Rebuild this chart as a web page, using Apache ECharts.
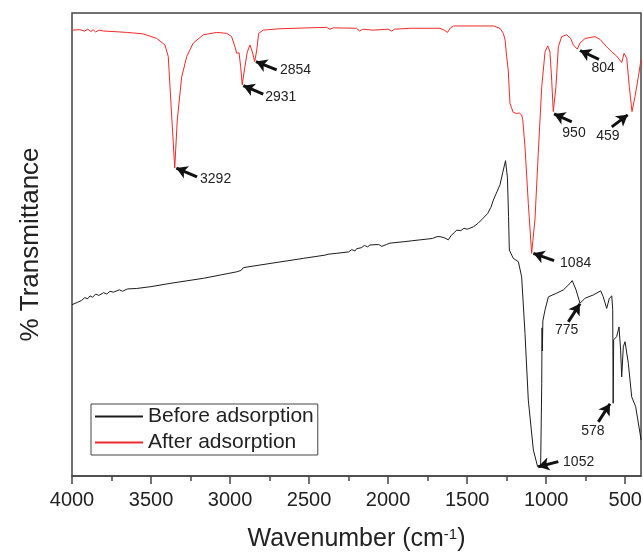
<!DOCTYPE html>
<html>
<head>
<meta charset="utf-8">
<script src="https://cdn.jsdelivr.net/npm/echarts@6/dist/echarts.min.js"></script>
<style>
  html, body { margin: 0; padding: 0; background: #fff; }
  #main { width: 643px; height: 555px; }
</style>
</head>
<body>
<div id="main"></div>
<script>
// tick labels on the wavenumber axis
var majorTicks = [4000, 3500, 3000, 2500, 2000, 1500, 1000, 500];
var minorTicks = [3750, 3250, 2750, 2250, 1750, 1250, 750];

// [wavenumber, % transmittance (arbitrary scale)]
var beforeData = [
  [4000, 37.0], [3960, 37.6], [3940, 37.9], [3920, 38.5], [3900, 38.3], [3886, 38.9], [3870, 38.6],
  [3850, 39.3], [3830, 39.0], [3800, 39.6], [3780, 39.3], [3760, 39.9], [3739, 39.7], [3700, 40.2],
  [3680, 39.9], [3650, 40.4], [3591, 40.5], [3500, 40.9], [3380, 41.6], [3169, 42.7], [2958, 44.1],
  [2930, 44.4], [2916, 45.0], [2880, 45.2], [2747, 45.9], [2537, 47.0], [2400, 47.7], [2380, 47.9],
  [2325, 48.1], [2250, 48.4], [2230, 48.9], [2210, 48.6], [2199, 49.1], [2170, 49.3], [2150, 49.8],
  [2130, 49.5], [2115, 49.9], [2060, 50.0], [2040, 49.6], [2030, 49.4], [2010, 50.0], [1988, 50.3],
  [1900, 50.6], [1850, 50.8], [1798, 51.0], [1720, 51.3], [1690, 51.7], [1672, 51.7], [1640, 51.4],
  [1619, 51.0], [1600, 52.0], [1580, 52.6], [1566, 53.1], [1540, 53.0], [1520, 53.5], [1500, 53.3],
  [1461, 53.8], [1430, 54.6], [1398, 55.7], [1370, 56.7], [1350, 58.0], [1334, 59.6], [1310, 61.5],
  [1292, 62.9], [1275, 65.5], [1257, 68.1], [1245, 64.4], [1238, 56.0], [1233, 48.8], [1208, 47.0],
  [1176, 46.3], [1155, 43.0], [1134, 30.8], [1113, 16.4], [1081, 5.6], [1054, 2.0], [1035, 2.0],
  [1028, 20.0], [1026, 32.0], [1024, 27.0], [1021, 33.5], [1007, 35.9], [986, 38.7], [933, 39.5],
  [891, 40.2], [849, 41.6], [835, 42.2], [811, 40.2], [786, 37.3], [754, 38.4], [702, 39.1],
  [655, 40.0], [639, 38.7], [617, 36.2], [600, 38.4], [585, 38.9], [579, 35.9], [576, 15.7],
  [573, 29.4], [554, 30.1], [539, 32.2], [529, 27.2], [522, 21.4], [512, 27.9], [501, 29.0],
  [480, 24.3], [459, 17.1], [434, 15.0], [406, 9.2], [400, 7.8]
];

var afterData = [
  [4000, 96.3], [3950, 96.4], [3920, 96.1], [3900, 96.5], [3880, 96.0], [3867, 96.4], [3850, 95.9],
  [3830, 96.3], [3800, 96.1], [3741, 96.0], [3650, 95.8], [3551, 95.5], [3464, 94.5], [3412, 93.1],
  [3391, 90.6], [3380, 84.1], [3363, 74.1], [3350, 66.5], [3334, 76.9], [3306, 86.2], [3274, 90.6],
  [3233, 93.5], [3169, 95.3], [3085, 95.8], [3021, 95.6], [2990, 94.9], [2969, 92.7], [2958, 91.3],
  [2943, 91.4], [2933, 88.4], [2923, 84.5], [2906, 88.4], [2891, 91.6], [2874, 93.1], [2859, 91.6],
  [2844, 89.5], [2831, 92.0], [2819, 95.6], [2790, 96.3], [2684, 96.6], [2500, 96.8], [2389, 96.9],
  [2368, 96.5], [2347, 96.8], [2200, 96.7], [2180, 96.1], [2160, 96.5], [2096, 96.3], [2000, 96.5],
  [1977, 96.1], [1960, 96.5], [1861, 96.7], [1672, 96.7], [1640, 96.2], [1625, 95.8], [1605, 96.8],
  [1587, 97.2], [1419, 97.2], [1334, 97.2], [1292, 96.7], [1271, 95.6], [1260, 94.2], [1250, 90.6],
  [1240, 87.7], [1229, 80.5], [1218, 79.4], [1208, 78.5], [1186, 78.3], [1170, 78.4], [1155, 78.0],
  [1148, 76.9], [1134, 71.1], [1113, 58.9], [1092, 48.1], [1071, 55.3], [1050, 69.7], [1028, 84.1],
  [1007, 91.6], [990, 92.9], [976, 91.6], [965, 85.5], [955, 78.7], [938, 84.1], [923, 92.7],
  [902, 94.9], [870, 95.3], [845, 94.5], [828, 93.1], [803, 92.2], [786, 93.5], [754, 94.5],
  [691, 94.9], [659, 94.3], [617, 92.7], [585, 91.6], [554, 90.7], [522, 89.3], [507, 91.3],
  [490, 90.2], [474, 84.1], [457, 78.7], [438, 81.9], [417, 86.2], [400, 89.9]
];

// peak annotations: arrow tip, arrow tail, label anchor (data units)
var peaks = [
  { text: '3292', tip: [3340, 66.5], tail: [3209, 64.6], at: [3190, 64.2], pos: 'right' },
  { text: '2931', tip: [2916, 84.3], tail: [2790, 82.5], at: [2778, 81.9], pos: 'right' },
  { text: '2854', tip: [2836, 89.5], tail: [2705, 87.7], at: [2684, 87.7], pos: 'right' },
  { text: '1084', tip: [1081, 48.1], tail: [950, 46.5], at: [912, 46.0], pos: 'right' },
  { text: '950', tip: [950, 78.2], tail: [838, 76.5], at: [824, 74.1], pos: 'inside' },
  { text: '459', tip: [484, 78.0], tail: [585, 75.4], at: [609, 73.4], pos: 'inside' },
  { text: '804', tip: [786, 91.9], tail: [666, 90.0], at: [640, 88.1], pos: 'inside' },
  { text: '1052', tip: [1050, 2.0], tail: [923, 3.1], at: [893, 3.0], pos: 'right' },
  { text: '775', tip: [786, 37.2], tail: [860, 33.3], at: [870, 31.5], pos: 'inside' },
  { text: '578', tip: [596, 15.6], tail: [670, 11.7], at: [704, 9.7], pos: 'inside' }
];

var font = 'Liberation Sans, Arial, sans-serif';
var myChart = echarts.init(document.getElementById('main'));

var arrowLines = peaks.map(function (p) {
  return [{ coord: p.tail }, { coord: p.tip }];
});
var peakLabels = peaks.map(function (p) {
  return {
    coord: p.at,
    value: p.text,
    label: { position: p.pos, distance: 0 }
  };
});

var option = {
  animation: false,
  backgroundColor: '#fff',
  textStyle: { fontFamily: font },
  grid: {
    left: 72, right: 2, top: 13, bottom: 79,
    outerBoundsMode: 'none',
    containLabel: false,
    show: true, borderColor: '#444', borderWidth: 1.5
  },
  legend: {
    data: ['Before adsorption', 'After adsorption'],
    orient: 'vertical',
    left: 91, top: 404,
    padding: [2, 4, 2, 3],
    itemGap: 5,
    itemWidth: 48,
    itemHeight: 14,
    itemStyle: { opacity: 0 },
    borderColor: '#444',
    borderWidth: 1,
    textStyle: { fontSize: 21, color: '#222', fontFamily: font }
  },
  xAxis: [
    {
      type: 'value',
      min: 400, max: 4000,
      inverse: true,
      name: 'Wavenumber (cm{sup|-1})',
      nameLocation: 'middle',
      nameGap: 51,
      nameTextStyle: {
        fontSize: 25, color: '#222', fontFamily: font,
        rich: { sup: { fontSize: 15, verticalAlign: 'top', color: '#222', fontFamily: font } }
      },
      splitLine: { show: false },
      axisLine: { onZero: false, lineStyle: { color: '#444', width: 1.5 } },
      axisTick: { customValues: majorTicks, length: 8, lineStyle: { color: '#444', width: 1.5 } },
      axisLabel: {
        customValues: majorTicks, fontSize: 20, color: '#222', margin: 14, fontFamily: font,
        formatter: function (v) { return String(v); }
      }
    },
    {
      type: 'value',
      min: 400, max: 4000,
      inverse: true,
      position: 'bottom',
      splitLine: { show: false },
      axisLine: { show: false },
      axisTick: { customValues: minorTicks, length: 5, lineStyle: { color: '#444', width: 1.5 } },
      axisLabel: { show: false }
    }
  ],
  yAxis: {
    type: 'value',
    min: 0, max: 100,
    name: '% Transmittance',
    nameLocation: 'middle',
    nameGap: 28,
    nameTextStyle: { fontSize: 26, color: '#222', fontFamily: font },
    splitLine: { show: false },
    axisLine: { show: false },
    axisTick: { show: false },
    axisLabel: { show: false }
  },
  series: [
    {
      name: 'Before adsorption',
      type: 'line',
      data: beforeData,
      symbol: 'none',
      lineStyle: { color: '#1c1c1c', width: 1 },
      itemStyle: { color: '#1c1c1c' }
    },
    {
      name: 'After adsorption',
      type: 'line',
      data: afterData,
      symbol: 'none',
      lineStyle: { color: '#f02a2a', width: 1 },
      itemStyle: { color: '#f02a2a' },
      markLine: {
        silent: true,
        symbol: ['none', 'arrow'],
        symbolSize: [10, 11],
        lineStyle: { color: '#111', width: 3, type: 'solid' },
        label: { show: false },
        data: arrowLines
      },
      markPoint: {
        silent: true,
        symbol: 'circle',
        symbolSize: 0,
        label: { show: true, formatter: '{c}', fontSize: 14, color: '#222', fontFamily: font },
        data: peakLabels
      }
    }
  ]
};

option && myChart.setOption(option);
</script>
</body>
</html>
